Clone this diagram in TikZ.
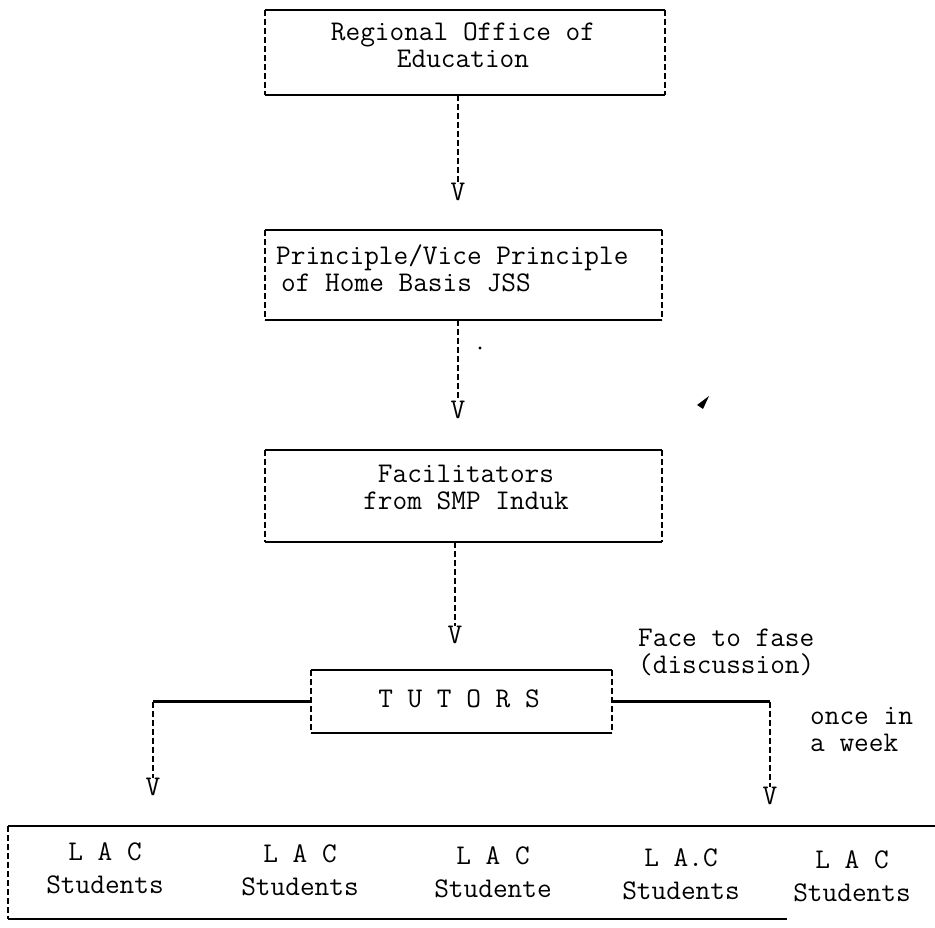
\documentclass[tikz,border=0pt]{standalone}
\usepackage{fontspec}
\begin{document}
\begin{tikzpicture}[x=1pt,y=-1pt,
  typed/.style={font=\fontsize{28.5}{27}\selectfont\ttfamily\addfontfeature{FakeBold=1.2}},
  txt/.style={typed, inner sep=0pt, align=center},
  lac/.style={font=\fontsize{28.5}{33}\selectfont\ttfamily\addfontfeature{FakeBold=1.2}, inner sep=0pt, align=center},
  frame/.style={inner sep=0pt, outer sep=0pt},
  solidline/.style={line width=2.2pt},
  dashline/.style={line width=1.9pt, dash pattern=on 6pt off 3pt},
  vhead/.style={typed, inner sep=0pt}
]
\useasboundingbox (0,0) rectangle (935,928);

% box with solid top and bottom rules and dashed sides
\newcommand\typedbox[1]{%
  \draw[solidline] (#1.north west) -- (#1.north east);
  \draw[solidline] (#1.south west) -- (#1.south east);
  \draw[dashline] (#1.north west) -- (#1.south west);
  \draw[dashline] (#1.north east) -- (#1.south east);}

% --- Regional Office
\node[frame, minimum width=400, minimum height=85] (reg) at (465,52.5) {};
\typedbox{reg}
\node[txt] (regtxt) at (463,45) {Regional Office of\\Education};

% --- Principal
\node[frame, minimum width=397, minimum height=90] (prin) at (463.5,275) {};
\typedbox{prin}
\node[txt, align=left, anchor=west] (printxt) at (276,268) {Principle/Vice Principle\\\hspace*{5pt}of Home Basis JSS};

% --- Facilitators
\node[frame, minimum width=397, minimum height=92] (fac) at (463.5,496) {};
\typedbox{fac}
\node[txt] (factxt) at (466,487) {Facilitators\\from SMP Induk};

% --- Tutors
\node[frame, minimum width=301, minimum height=63] (tut) at (461.5,701.5) {};
\typedbox{tut}
\node[txt] (tuttxt) at (459,699) {T U T O R S};

% --- vertical links ending in a typed V
\node[vhead] (v1) at (458,192) {V};
\node[vhead] (v2) at (458,410) {V};
\node[vhead] (v3) at (455,635) {V};
\draw[dashline] (v1 |- reg.south) -- (v1.north);
\draw[dashline] (v2 |- prin.south) -- (v2.north);
\draw[dashline] (v3 |- fac.south) -- (v3.north);

% --- branches to the learning groups
\node[vhead] (vl) at (153,787) {V};
\node[vhead] (vr) at (770,796) {V};
\coordinate (lturn) at (tut.west -| vl);
\coordinate (rturn) at (tut.east -| vr);
\draw[solidline] (tut.west) -- (lturn);
\draw[dashline] (lturn) -- (vl.north);
\draw[solidline] (tut.east) -- (rturn);
\draw[dashline] (rturn) -- (vr.north);

% --- notes
\node[txt, align=left, anchor=west] (face) at (638,652) {Face to fase\\(discussion)};
\node[txt, align=left, anchor=west] (week) at (810,730) {once in\\a week};

% --- learning groups (open on the right)
\node[frame, minimum width=927, minimum height=93] (lacbox) at (471.5,872.5) {};
\coordinate (botend) at (787,919);
\draw[solidline] (lacbox.north west) -- (lacbox.north east);
\draw[solidline] (lacbox.south west) -- (botend);
\draw[dashline] (lacbox.north west) -- (lacbox.south west);
\node[lac] (lac1) at (105,868) {L A C\\Students};
\node[lac] (lac2) at (300,870) {L A C\\Students};
\node[lac] (lac3) at (493,872) {L A C\\Studente};
\node[lac] (lac4) at (681,874) {L A.C\\Students};
\node[lac] (lac5) at (852,876) {L A C\\Students};

% --- specks on the sheet
\fill (480,348) circle (1.6);
\fill (697,405) -- (709,396) -- (703,409) -- cycle;
\end{tikzpicture}
\end{document}
